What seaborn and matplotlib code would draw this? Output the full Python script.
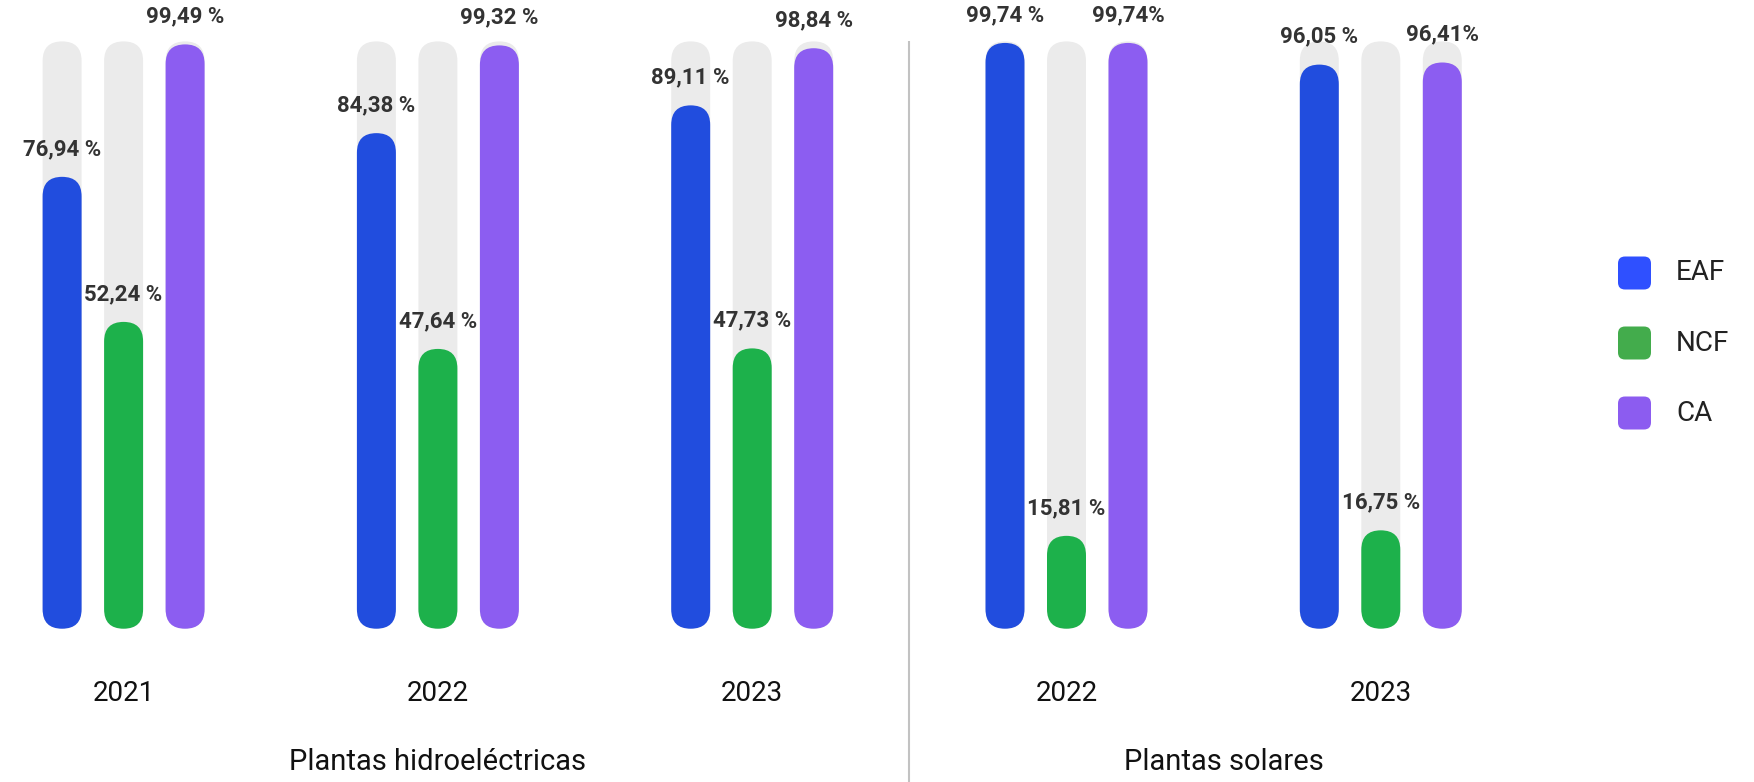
import pandas as pd
import numpy as np
import matplotlib.pyplot as plt
import seaborn as sns
from matplotlib.patches import FancyBboxPatch

# chart data
grupos = ['H2021', 'H2022', 'H2023', 'S2022', 'S2023']
anios = ['2021', '2022', '2023', '2022', '2023']
indicadores = ['EAF', 'NCF', 'CA']
eaf = [76.94, 84.38, 89.11, 99.74, 96.05]
ncf = [52.24, 47.64, 47.73, 15.81, 16.75]
ca = [99.49, 99.32, 98.84, 99.74, 96.41]
eaf_lbl = ['76,94 %', '84,38 %', '89,11 %', '99,74 %', '96,05 %']
ncf_lbl = ['52,24 %', '47,64 %', '47,73 %', '15,81 %', '16,75 %']
ca_lbl = ['99,49 %', '99,32 %', '98,84 %', '99,74%', '96,41%']
secciones = ['Plantas hidroeléctricas', 'Plantas solares']

bar_colors = ['#214dde', '#1db14b', '#8c5df1']
legend_colors = ['#2f50ff', '#43ac4c', '#8c5cf0']
gray = '#ebebeb'

df = pd.DataFrame({
    'grupo': grupos * 3,
    'indicador': np.repeat(indicadores, len(grupos)),
    'valor': eaf + ncf + ca,
})
df_bg = df.assign(valor=100.0)

W, H = 1754, 782
fig = plt.figure(figsize=(W / 100, H / 100), dpi=100)
ax = fig.add_axes([0, 0, 1, 1])

bw = 0.587
sns.barplot(data=df_bg, x='grupo', y='valor', hue='indicador', hue_order=indicadores,
            palette=[gray] * 3, width=bw, gap=0.366, legend=False, ax=ax,
            errorbar=None, saturation=1)
sns.barplot(data=df, x='grupo', y='valor', hue='indicador', hue_order=indicadores,
            palette=bar_colors, width=bw, gap=0.366, legend=False, ax=ax,
            errorbar=None, saturation=1)

# px layout -> data limits
x0, pitch = 123.6, 314.3
ytop, ybot = 41.4, 628.7
ppu = (ybot - ytop) / 100.0
ax.set_xlim(-x0 / pitch, (W - x0) / pitch)
ax.set_ylim(-(H - ybot) / ppu, 100 + ytop / ppu)
ax.axis('off')
aspect = pitch / ppu

# value labels
for cont, labels in zip(ax.containers[3:], [eaf_lbl, ncf_lbl, ca_lbl]):
    for bar, lab in zip(cont, labels):
        cx = bar.get_x() + bar.get_width() / 2
        ax.annotate(lab, (cx, bar.get_height()), xytext=(0, 20), textcoords='offset points',
                    ha='center', va='center', fontsize=16, fontweight='bold',
                    color='#333333', family='Roboto')

# rounded bars
n_bg = len(ax.containers[0]) * 3
for i, p in enumerate(list(ax.patches)):
    x, y, w, h = p.get_x(), p.get_y(), p.get_width(), p.get_height()
    fc = p.get_facecolor()
    p.remove()
    ax.add_patch(FancyBboxPatch((x, y), w, h, boxstyle=f'round,pad=0,rounding_size={w / 2}',
                                mutation_aspect=aspect, fc=fc, ec='none',
                                zorder=1 if i < n_bg else 2))

# year and section labels
ylab_year = -(693.5 - ybot) / ppu
ylab_sec = -(762 - ybot) / ppu
for i, a in enumerate(anios):
    ax.text(i, ylab_year, a, ha='center', va='center', fontsize=20, color='#111111',
            family='Roboto')
ax.text(1, ylab_sec, secciones[0], ha='center', va='center', fontsize=21, color='#111111',
        family='Roboto')
ax.text(3.5, ylab_sec, secciones[1], ha='center', va='center', fontsize=21, color='#111111',
        family='Roboto')

# divider
ax.vlines(2.5, ax.get_ylim()[0], 100, color='#c2c2c2', lw=1.5, zorder=0)

# legend
sq = 33
for k, (name, c) in enumerate(zip(indicadores, legend_colors)):
    cy = 273 + k * 70
    fig.patches.append(FancyBboxPatch(((1618) / W, 1 - (cy + sq / 2) / H), sq / W, sq / H,
                                      boxstyle=f'round,pad=0,rounding_size={7 / W}',
                                      mutation_aspect=W / H, fc=c, ec='none',
                                      transform=fig.transFigure, figure=fig))
    fig.text(1676 / W, 1 - cy / H, name, ha='left', va='center', fontsize=20,
             color='#222222', family='Roboto')

fig.savefig('out.png', dpi=100)
